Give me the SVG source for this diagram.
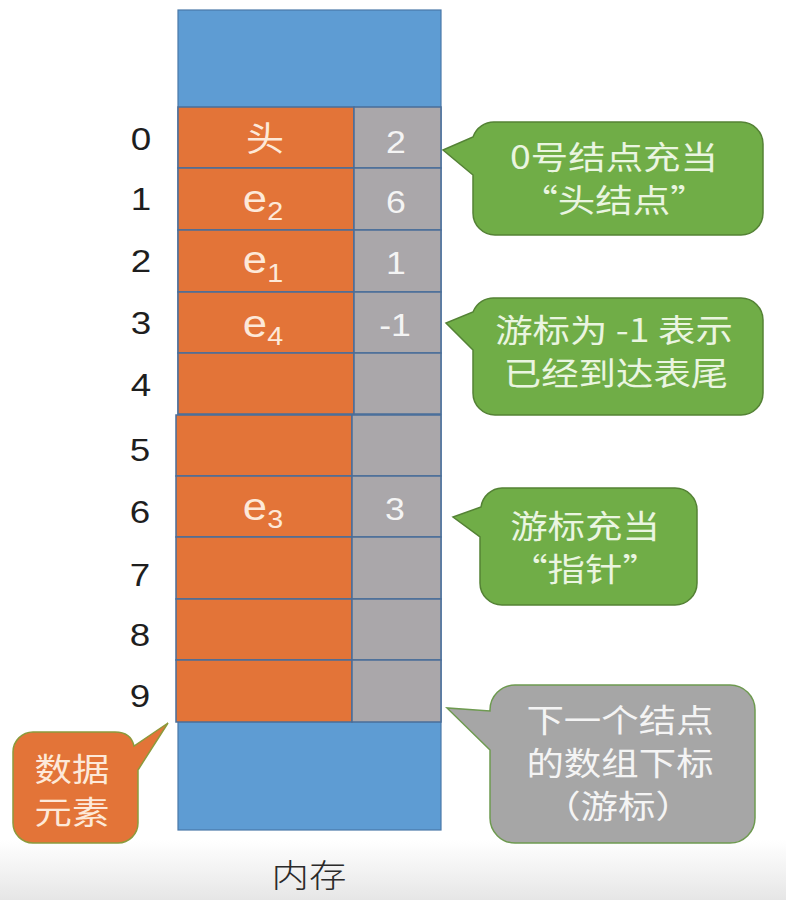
<svg xmlns="http://www.w3.org/2000/svg" width="786" height="900" viewBox="0 0 786 900">
  <defs>
    <linearGradient id="bg" x1="0" y1="0" x2="0" y2="1">
      <stop offset="0" stop-color="#FFFFFF"/>
      <stop offset="1" stop-color="#E6E6E6"/>
    </linearGradient>
  </defs>
  <style>
    .blue { fill: #5E9CD3; stroke: #4A78A8; stroke-width: 1.2; }
    .oc { fill: #E37438; stroke: #4A6E99; stroke-width: 1.5; }
    .gc { fill: #AAA7AA; stroke: #4A6E99; stroke-width: 1.5; }
    .idx { font-family: "Liberation Sans", Arial, sans-serif; font-size: 32px; fill: #1E1E1E; text-anchor: middle; }
    .cn { font-family: "Liberation Sans", Arial, sans-serif; font-size: 31px; fill: #F4F4F4; text-anchor: middle; }
    .ce { font-family: "Liberation Sans", Arial, sans-serif; font-size: 38px; fill: #FDE9D9; text-anchor: middle; }
    .sub { font-size: 25px; }
    .head { font-family: "Noto Sans CJK SC", sans-serif; font-size: 34px; fill: #FDE9D9; text-anchor: middle; }
    .cjk { font-family: "Noto Sans CJK SC", sans-serif; font-size: 32px; text-anchor: middle; }
    .green { fill: #70AD47; stroke: #548235; stroke-width: 1.5; }
    .greyc { fill: #A6A6A6; stroke: #6E9A50; stroke-width: 1.5; }
    .orangec { fill: #E37438; stroke: #8C9A3C; stroke-width: 1.5; }
    .tg { fill: #EAF5E0; }
    .tw { fill: #F4F4F4; }
    .to { fill: #FDE9D9; }
    .mem { font-family: "Noto Sans CJK SC", sans-serif; font-size: 32px; fill: #2A2A2A; text-anchor: middle; font-weight: 300; }
  </style>

  <rect x="0" y="0" width="786" height="900" fill="#FFFFFF"/>
  <rect x="0" y="840" width="786" height="60" fill="url(#bg)"/>

  <g id="memory">
    <rect class="blue" x="178" y="10" width="263" height="820"/>
  </g>

  <g id="cells">
    <g id="row-0">
      <rect class="oc" x="178" y="107" width="176" height="61"/>
      <rect class="gc" x="354" y="107" width="87" height="61"/>
      <text class="head" transform="translate(265,151) scale(1.12,1)">头</text>
      <text class="cn" transform="translate(396,153) scale(1.15,1)">2</text>
    </g>
    <g id="row-1">
      <rect class="oc" x="178" y="168" width="176" height="62"/>
      <rect class="gc" x="354" y="168" width="87" height="62"/>
      <text class="ce" transform="translate(263,212) scale(1.15,1)">e<tspan class="sub" dy="8">2</tspan></text>
      <text class="cn" transform="translate(396,213) scale(1.15,1)">6</text>
    </g>
    <g id="row-2">
      <rect class="oc" x="178" y="230" width="176" height="62"/>
      <rect class="gc" x="354" y="230" width="87" height="62"/>
      <text class="ce" transform="translate(263,273) scale(1.15,1)">e<tspan class="sub" dy="9">1</tspan></text>
      <text class="cn" transform="translate(396,274) scale(1.15,1)">1</text>
    </g>
    <g id="row-3">
      <rect class="oc" x="178" y="292" width="176" height="61"/>
      <rect class="gc" x="354" y="292" width="87" height="61"/>
      <text class="ce" transform="translate(263,337) scale(1.15,1)">e<tspan class="sub" dy="8">4</tspan></text>
      <text class="cn" transform="translate(395,336) scale(1.15,1)">-1</text>
    </g>
    <g id="row-4">
      <rect class="oc" x="178" y="353" width="176" height="61"/>
      <rect class="gc" x="354" y="353" width="87" height="61"/>
    </g>
    <g id="row-5">
      <rect class="oc" x="176" y="415" width="176" height="61"/>
      <rect class="gc" x="352" y="415" width="89" height="61"/>
    </g>
    <g id="row-6">
      <rect class="oc" x="176" y="476" width="176" height="61"/>
      <rect class="gc" x="352" y="476" width="89" height="61"/>
      <text class="ce" transform="translate(263,520) scale(1.15,1)">e<tspan class="sub" dy="8">3</tspan></text>
      <text class="cn" transform="translate(395,520) scale(1.15,1)">3</text>
    </g>
    <g id="row-7">
      <rect class="oc" x="176" y="537" width="176" height="62"/>
      <rect class="gc" x="352" y="537" width="89" height="62"/>
    </g>
    <g id="row-8">
      <rect class="oc" x="176" y="599" width="176" height="61"/>
      <rect class="gc" x="352" y="599" width="89" height="61"/>
    </g>
    <g id="row-9">
      <rect class="oc" x="176" y="660" width="176" height="62"/>
      <rect class="gc" x="352" y="660" width="89" height="62"/>
    </g>
  </g>

  <g id="indices">
    <text class="idx" transform="translate(141,150) scale(1.15,1)">0</text>
    <text class="idx" transform="translate(141,210) scale(1.15,1)">1</text>
    <text class="idx" transform="translate(141,272) scale(1.15,1)">2</text>
    <text class="idx" transform="translate(141,334) scale(1.15,1)">3</text>
    <text class="idx" transform="translate(141,396) scale(1.15,1)">4</text>
    <text class="idx" transform="translate(140,461) scale(1.15,1)">5</text>
    <text class="idx" transform="translate(140,523) scale(1.15,1)">6</text>
    <text class="idx" transform="translate(140,586) scale(1.15,1)">7</text>
    <text class="idx" transform="translate(140,646) scale(1.15,1)">8</text>
    <text class="idx" transform="translate(140,707) scale(1.15,1)">9</text>
  </g>

  <g id="callout-head">
    <path class="green" d="M495,122 H741 A22,22 0 0 1 763,144 V213 A22,22 0 0 1 741,235 H495 A22,22 0 0 1 473,213 V175 L443,150 L473,137 A22,22 0 0 1 495,122 Z"/>
    <text class="cjk tg" transform="translate(614,169) scale(1.17,1)">0号结点充当</text>
    <text class="cjk tg" transform="translate(614,212) scale(1.17,1)">“头结点”</text>
  </g>

  <g id="callout-end">
    <path class="green" d="M495,298 H741 A22,22 0 0 1 763,320 V393 A22,22 0 0 1 741,415 H495 A22,22 0 0 1 473,393 V350 L446,323 L473,312 A22,22 0 0 1 495,298 Z"/>
    <text class="cjk tg" transform="translate(614,342) scale(1.17,1)">游标为 -1 表示</text>
    <text class="cjk tg" transform="translate(616,385) scale(1.17,1)">已经到达表尾</text>
  </g>

  <g id="callout-pointer">
    <path class="green" d="M502,488 H675 A22,22 0 0 1 697,510 V583 A22,22 0 0 1 675,605 H502 A22,22 0 0 1 480,583 V537 L453,517 L481,507 A22,22 0 0 1 502,488 Z"/>
    <text class="cjk tg" transform="translate(585,538) scale(1.17,1)">游标充当</text>
    <text class="cjk tg" transform="translate(585,581) scale(1.17,1)">“指针”</text>
  </g>

  <g id="callout-cursor">
    <path class="greyc" d="M515,685 H730 A25,25 0 0 1 755,710 V818 A25,25 0 0 1 730,843 H515 A25,25 0 0 1 490,818 V750 L447,708 L490,711 V710 A25,25 0 0 1 515,685 Z"/>
    <text class="cjk tw" transform="translate(620,732) scale(1.17,1)">下一个结点</text>
    <text class="cjk tw" transform="translate(620,775) scale(1.17,1)">的数组下标</text>
    <text class="cjk tw" transform="translate(618,818) scale(1.17,1)">（游标）</text>
  </g>

  <g id="callout-data">
    <path class="orangec" d="M33,732 H115 Q131,732 134,746 L168,723 L138,770 V823 A20,20 0 0 1 118,843 H33 A20,20 0 0 1 13,823 V752 A20,20 0 0 1 33,732 Z"/>
    <text class="cjk to" transform="translate(72,781) scale(1.17,1)">数据</text>
    <text class="cjk to" transform="translate(72,824) scale(1.17,1)">元素</text>
  </g>

  <g id="label-memory">
    <text class="mem" transform="translate(309,887) scale(1.17,1)">内存</text>
  </g>

  <g id="connectors"></g>
</svg>
